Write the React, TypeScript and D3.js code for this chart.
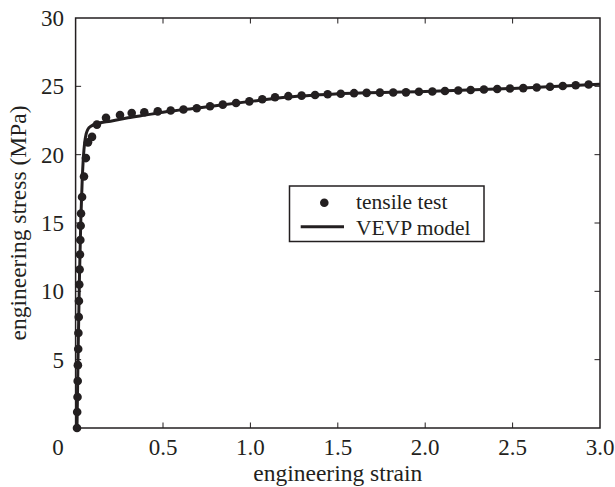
import React from 'react';
import * as d3 from 'd3';

// tensile test (engineering strain, engineering stress in MPa)
const testStrain = [
  0.008, 0.009, 0.011, 0.012, 0.013, 0.015, 0.016, 0.018, 0.019, 0.021, 0.023,
  0.025, 0.027, 0.029, 0.031, 0.037, 0.048, 0.059, 0.071, 0.094, 0.122, 0.174,
  0.254, 0.321, 0.393, 0.47, 0.544, 0.617, 0.693, 0.769, 0.842, 0.918, 0.994,
  1.068, 1.141, 1.217, 1.293, 1.37, 1.442, 1.517, 1.593, 1.665, 1.741, 1.817,
  1.89, 1.964, 2.041, 2.113, 2.189, 2.26, 2.336, 2.412, 2.485, 2.561, 2.638,
  2.714, 2.787, 2.861, 2.935,
];
const testStress = [
  0, 1.17, 2.27, 3.44, 4.6, 5.78, 6.95, 8.12, 9.29, 10.5, 11.6,
  12.7, 13.75, 14.8, 15.7, 16.9, 18.4, 19.75, 20.9, 21.3, 22.2, 22.7,
  22.9, 23.05, 23.1, 23.17, 23.23, 23.3, 23.4, 23.54, 23.66, 23.78, 23.9,
  24.05, 24.2, 24.28, 24.32, 24.37, 24.42, 24.46, 24.5, 24.52, 24.54, 24.55,
  24.56, 24.6, 24.62, 24.66, 24.69, 24.73, 24.77, 24.8, 24.84, 24.87, 24.92,
  24.97, 25.02, 25.08, 25.13,
];

// VEVP model curve
const modelStrain = [
  0.008, 0.015, 0.022, 0.03, 0.038, 0.045, 0.052, 0.06, 0.07, 0.09, 0.13,
  0.2, 0.3, 0.4, 0.5, 0.7, 1.0, 1.2, 1.5, 2.0, 2.5, 3.0,
];
const modelStress = [
  0, 6, 11, 15.3, 18.2, 19.9, 20.9, 21.5, 21.85, 22.1, 22.3,
  22.45, 22.7, 22.9, 23.1, 23.42, 23.9, 24.2, 24.45, 24.62, 24.85, 25.15,
];

const xTicks = [0.5, 1.0, 1.5, 2.0, 2.5, 3.0];
const xTickLabels = ['0.5', '1.0', '1.5', '2.0', '2.5', '3.0'];
const yTicks = [5, 10, 15, 20, 25, 30];

const W = 615;
const H = 487;
const left = 75.6;
const right = 600;
const top = 18;
const bottom = 428;
const ink = '#231f20';
const font = '"Liberation Serif", "Times New Roman", serif';

export default function App() {
  const x = d3.scaleLinear().domain([0, 3]).range([left, right]);
  const y = d3.scaleLinear().domain([0, 30]).range([bottom, top]);

  const line = d3
    .line<number>()
    .x((d) => x(d))
    .y((_, i) => y(modelStress[i]))
    .curve(d3.curveMonotoneX);

  const tick = 5.5;

  return (
    <svg
      width={W}
      height={H}
      style={{ position: 'fixed', left: 0, top: 0, background: '#fff' }}
      fontFamily={font}
    >
      {/* ticks inward on all sides */}
      {xTicks.slice(0, -1).map((t) => (
        <g key={'xt' + t} stroke={ink} strokeWidth={1}>
          <line x1={x(t)} x2={x(t)} y1={bottom} y2={bottom - tick} />
          <line x1={x(t)} x2={x(t)} y1={top} y2={top + tick} />
        </g>
      ))}
      {yTicks.slice(0, -1).map((t) => (
        <g key={'yt' + t} stroke={ink} strokeWidth={1}>
          <line x1={left} x2={left + tick} y1={y(t)} y2={y(t)} />
          <line x1={right} x2={right - tick} y1={y(t)} y2={y(t)} />
        </g>
      ))}

      {/* model line */}
      <path d={line(modelStrain) || ''} fill="none" stroke={ink} strokeWidth={3} />

      {/* test points */}
      {testStrain.map((s, i) => (
        <circle key={i} cx={x(s)} cy={y(testStress[i])} r={4.3} fill={ink} />
      ))}

      {/* frame */}
      <rect
        x={left}
        y={top}
        width={right - left}
        height={bottom - top}
        fill="none"
        stroke={ink}
        strokeWidth={1.5}
      />

      {/* tick labels */}
      {xTicks.map((t, i) => (
        <text key={'xl' + t} x={x(t)} y={455} textAnchor="middle" fontSize={23} fill={ink}>
          {xTickLabels[i]}
        </text>
      ))}
      <text x={58} y={455} textAnchor="middle" fontSize={23} fill={ink}>
        0
      </text>
      {yTicks.map((t) => (
        <text key={'yl' + t} x={64} y={y(t) + 8} textAnchor="end" fontSize={23} fill={ink}>
          {t}
        </text>
      ))}

      {/* axis titles */}
      <text x={(left + right) / 2} y={481} textAnchor="middle" fontSize={23.5} fill={ink}>
        engineering strain
      </text>
      <text
        transform={`translate(26,${(top + bottom) / 2}) rotate(-90)`}
        textAnchor="middle"
        fontSize={23.5}
        fill={ink}
      >
        engineering stress (MPa)
      </text>

      {/* legend */}
      <rect x={289.5} y={186} width={194.5} height={55.5} fill="#fff" stroke={ink} strokeWidth={1.5} />
      <circle cx={324.3} cy={202.7} r={4.3} fill={ink} />
      <line x1={300.7} x2={344} y1={226.7} y2={226.7} stroke={ink} strokeWidth={3} />
      <text x={356} y={208.5} fontSize={21.5} fill={ink}>
        tensile test
      </text>
      <text x={356} y={234.5} fontSize={21.5} fill={ink}>
        VEVP model
      </text>
    </svg>
  );
}
